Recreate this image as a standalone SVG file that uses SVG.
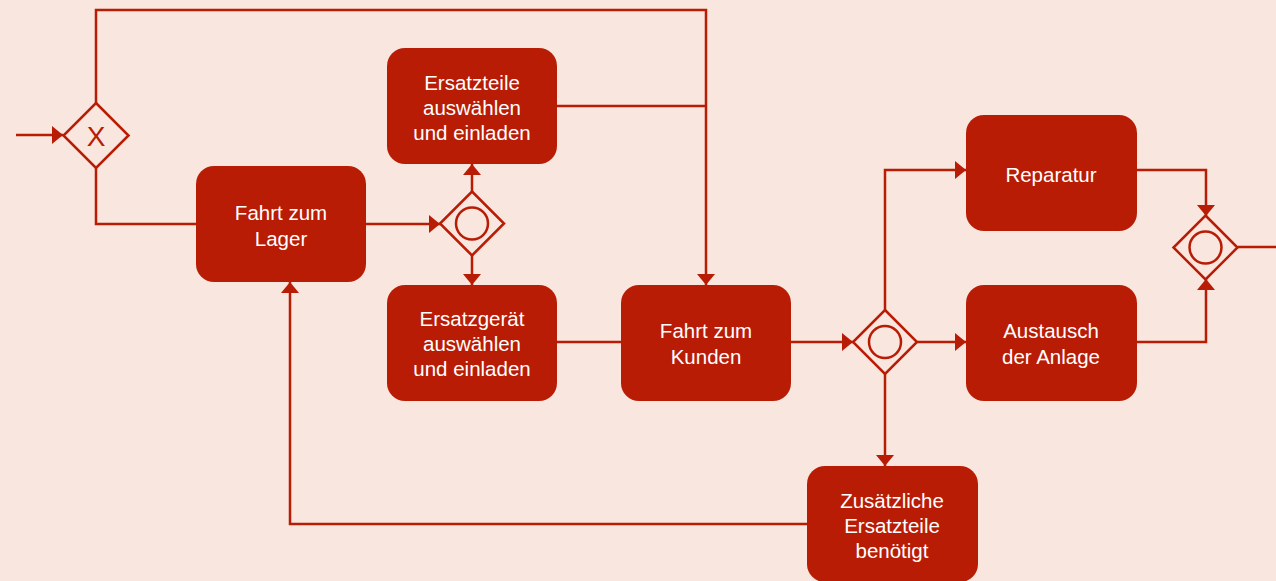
<svg xmlns="http://www.w3.org/2000/svg" width="1276" height="581" viewBox="0 0 1276 581">
<defs>
<style>
.task{fill:#B91C05}
.lbl{fill:#FFFFFF;font-family:"Liberation Sans",Arial,sans-serif;font-size:20.5px;text-anchor:middle;dominant-baseline:central}
.gw{fill:none;stroke:#B91C05;stroke-width:2.5}
.edge{fill:none;stroke:#B91C05;stroke-width:2.5}
</style>
<marker id="arr" viewBox="0 0 11 18" refX="11" refY="9" markerWidth="11" markerHeight="18" markerUnits="userSpaceOnUse" orient="auto">
<path d="M0,0 L11,9 L0,18 Z" fill="#B91C05"/>
</marker>
</defs>
<rect width="1276" height="581" fill="#F9E6DE"/>
<g id="connectors">
<path class="edge" d="M16,135 H63" marker-end="url(#arr)"/>
<path class="edge" d="M96,104 V10 H706 V285" marker-end="url(#arr)"/>
<path class="edge" d="M557,106 H706"/>
<path class="edge" d="M96,167 V224 H196"/>
<path class="edge" d="M366,224 H440" marker-end="url(#arr)"/>
<path class="edge" d="M472,192 V164" marker-end="url(#arr)"/>
<path class="edge" d="M472,255 V285" marker-end="url(#arr)"/>
<path class="edge" d="M557,342 H621"/>
<path class="edge" d="M791,342 H853" marker-end="url(#arr)"/>
<path class="edge" d="M885,311 V170 H966" marker-end="url(#arr)"/>
<path class="edge" d="M917,342 H966" marker-end="url(#arr)"/>
<path class="edge" d="M885,373 V466" marker-end="url(#arr)"/>
<path class="edge" d="M807,524 H290 V282" marker-end="url(#arr)"/>
<path class="edge" d="M1137,170 H1206 V216" marker-end="url(#arr)"/>
<path class="edge" d="M1137,342 H1206 V279" marker-end="url(#arr)"/>
<path class="edge" d="M1238,247 H1276"/>
</g>
<g id="gw-xor">
<path class="gw" d="M96,103 L128.5,135.5 L96,168 L63.5,135.5 Z"/>
<text x="96" y="136" fill="#B91C05" font-family="'Liberation Sans',Arial,sans-serif" font-size="28" text-anchor="middle" dominant-baseline="central">X</text>
</g>
<g id="gw-split1">
<path class="gw" d="M472,191.5 L504,223.5 L472,255.5 L440,223.5 Z"/>
<circle class="gw" cx="472" cy="223.5" r="16"/>
</g>
<g id="gw-split2">
<path class="gw" d="M885,310 L917,342 L885,374 L853,342 Z"/>
<circle class="gw" cx="885" cy="342" r="16"/>
</g>
<g id="gw-join">
<path class="gw" d="M1205.5,215.5 L1237.5,247.5 L1205.5,279.5 L1173.5,247.5 Z"/>
<circle class="gw" cx="1205.5" cy="247.5" r="16"/>
</g>
<g id="task-lager">
<rect class="task" x="196" y="166" width="170" height="116" rx="18"/>
<text class="lbl" x="281" y="212">Fahrt zum</text>
<text class="lbl" x="281" y="238">Lager</text>
</g>
<g id="task-ersatzteile">
<rect class="task" x="387" y="48" width="170" height="116" rx="18"/>
<text class="lbl" x="472" y="82">Ersatzteile</text>
<text class="lbl" x="472" y="107">auswählen</text>
<text class="lbl" x="472" y="132">und einladen</text>
</g>
<g id="task-ersatzgeraet">
<rect class="task" x="387" y="285" width="170" height="116" rx="18"/>
<text class="lbl" x="472" y="318">Ersatzgerät</text>
<text class="lbl" x="472" y="343">auswählen</text>
<text class="lbl" x="472" y="368">und einladen</text>
</g>
<g id="task-kunden">
<rect class="task" x="621" y="285" width="170" height="116" rx="18"/>
<text class="lbl" x="706" y="330">Fahrt zum</text>
<text class="lbl" x="706" y="356">Kunden</text>
</g>
<g id="task-reparatur">
<rect class="task" x="966" y="115" width="171" height="116" rx="18"/>
<text class="lbl" x="1051" y="174">Reparatur</text>
</g>
<g id="task-austausch">
<rect class="task" x="966" y="285" width="171" height="116" rx="18"/>
<text class="lbl" x="1051" y="330">Austausch</text>
<text class="lbl" x="1051" y="356">der Anlage</text>
</g>
<g id="task-zusaetzlich">
<rect class="task" x="807" y="466" width="171" height="116" rx="18"/>
<text class="lbl" x="892" y="500">Zusätzliche</text>
<text class="lbl" x="892" y="525">Ersatzteile</text>
<text class="lbl" x="892" y="550">benötigt</text>
</g>
</svg>
